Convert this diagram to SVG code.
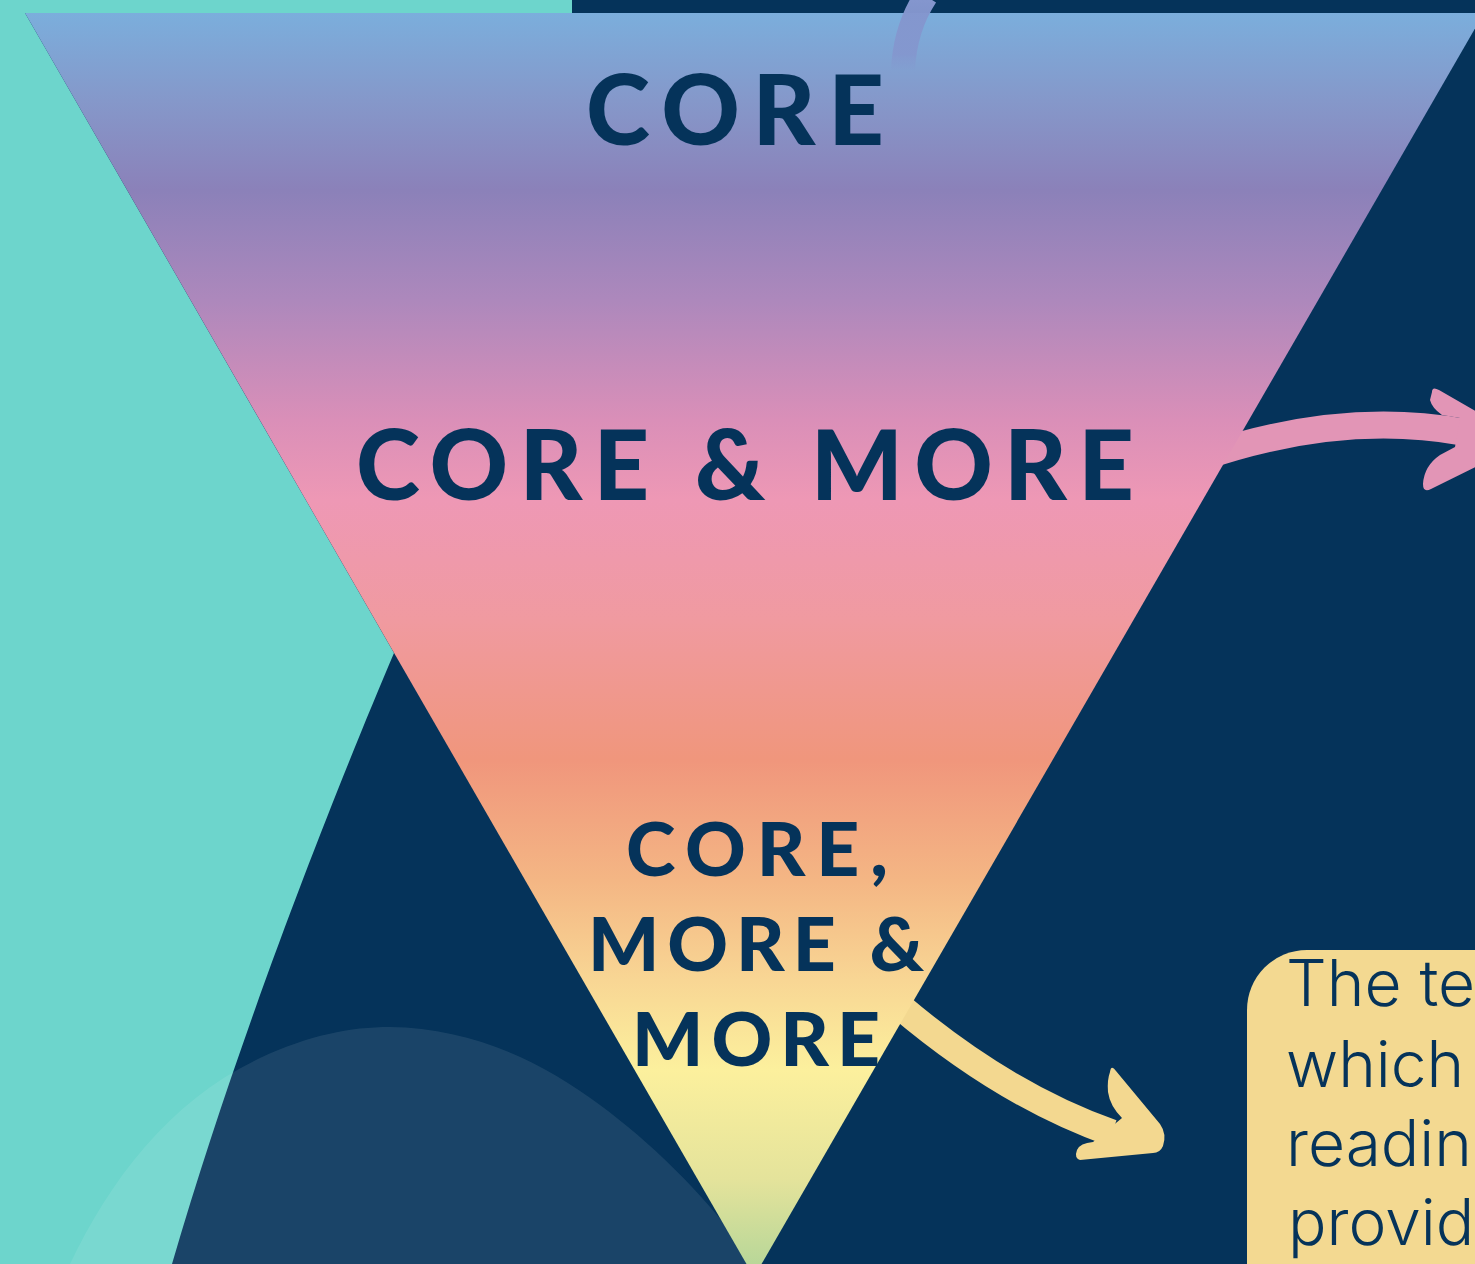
<svg xmlns="http://www.w3.org/2000/svg" width="1475" height="1264" viewBox="0 0 1475 1264">
  <defs>
    <linearGradient id="funnelFill" gradientUnits="userSpaceOnUse" x1="0" y1="13" x2="0" y2="1277">
      <stop offset="0" stop-color="#7BAEDC"/>
      <stop offset="0.069" stop-color="#8598CA"/>
      <stop offset="0.14" stop-color="#8B81B9"/>
      <stop offset="0.227" stop-color="#AD88BC"/>
      <stop offset="0.322" stop-color="#DA8FB8"/>
      <stop offset="0.385" stop-color="#EE98B5"/>
      <stop offset="0.48" stop-color="#F09AA0"/>
      <stop offset="0.591" stop-color="#F0967C"/>
      <stop offset="0.686" stop-color="#F4B684"/>
      <stop offset="0.765" stop-color="#F8D694"/>
      <stop offset="0.836" stop-color="#FCF09D"/>
      <stop offset="0.923" stop-color="#E4E39B"/>
      <stop offset="1" stop-color="#B2D598"/>
    </linearGradient>
    <linearGradient id="topArcFade" gradientUnits="userSpaceOnUse" x1="0" y1="0" x2="0" y2="72">
      <stop offset="0" stop-color="#8496CE" stop-opacity="1"/>
      <stop offset="0.75" stop-color="#8496CE" stop-opacity="0.9"/>
      <stop offset="1" stop-color="#8496CE" stop-opacity="0"/>
    </linearGradient>
  </defs>
  <style>
    .heading { font-family: "Lato", "Liberation Sans", sans-serif; font-weight: 900; fill: #05335A; }
    .big { font-size: 97px; }
    .small { font-size: 75px; }
    .body { font-family: "Inter", "Lato", sans-serif; font-weight: 300; font-size: 64px; fill: #05335A; }
    .shaft { fill: none; stroke-width: 27; stroke-linecap: butt; }
  </style>

  <!-- background -->
  <rect x="0" y="0" width="1475" height="1264" fill="#05335A"/>
  <path d="M0,0 H572 V13 H25 L394,653 C340,780 240,1030 172,1264 H0 Z" fill="#6DD5CC"/>

  <!-- soft hill at lower left -->
  <path d="M70,1264 C110,1180 170,1100 260,1058 C310,1035 350,1027 390,1027 C470,1028 540,1060 600,1105 C650,1142 700,1190 745,1250 L760,1264 Z" fill="#FFFFFF" fill-opacity="0.088"/>

  <!-- connectors -->
  <g id="connectors">
    <g id="arrow-more">
      <path class="shaft" d="M1200,458 Q1340,410 1462,432" stroke="#E295B6"/>
      <path d="M1432,392 Q1432,386 1439,390 L1528,441 L1431,489 Q1423,493 1423,484 Q1424,466 1440,455 L1455,447 L1460,418 L1442,415 Q1432,408 1430,400 Z" fill="#E295B6"/>
    </g>
    <g id="arrow-text">
      <path class="shaft" d="M870,980 Q990,1090 1112,1133" stroke="#F3D890"/>
      <path d="M1110,1072 Q1111,1064 1116,1071 L1160,1124 Q1167,1134 1163,1146 Q1160,1153 1153,1153 L1080,1160 Q1074,1158 1077,1150 Q1080,1143 1093,1142 L1122,1118 Q1110,1106 1108,1092 Q1107,1080 1110,1072 Z" fill="#F3D890"/>
    </g>
  </g>

  <!-- funnel -->
  <g id="funnel">
    <path d="M25,13 L1484,13 L754,1277 Z" fill="url(#funnelFill)"/>
  </g>

  <!-- arc coming in from above -->
  <g id="top-arc">
    <path d="M926,-4 Q905,28 903,70" fill="none" stroke="url(#topArcFade)" stroke-width="24"/>
  </g>

  <!-- funnel levels -->
  <g id="level-core">
    <text class="heading big" x="586" y="145" textLength="298" lengthAdjust="spacing">CORE</text>
  </g>
  <g id="level-core-more">
    <text class="heading big" x="356" y="500" textLength="778" lengthAdjust="spacing">CORE &amp; MORE</text>
  </g>
  <g id="level-core-more-more">
    <text class="heading small" x="626" y="876" textLength="262" lengthAdjust="spacing">CORE,</text>
    <text class="heading small" x="588" y="971" textLength="336" lengthAdjust="spacing">MORE &amp;</text>
    <text class="heading small" x="632" y="1066" textLength="248" lengthAdjust="spacing">MORE</text>
  </g>

  <!-- note box -->
  <g id="note">
    <rect x="1247" y="950" width="400" height="420" rx="60" ry="60" fill="#F3D991"/>
    <text class="body" x="1286" y="1006">The tea</text>
    <text class="body" x="1286" y="1087">which</text>
    <text class="body" x="1286" y="1166">reading</text>
    <text class="body" x="1288" y="1245">provide</text>
  </g>
</svg>
